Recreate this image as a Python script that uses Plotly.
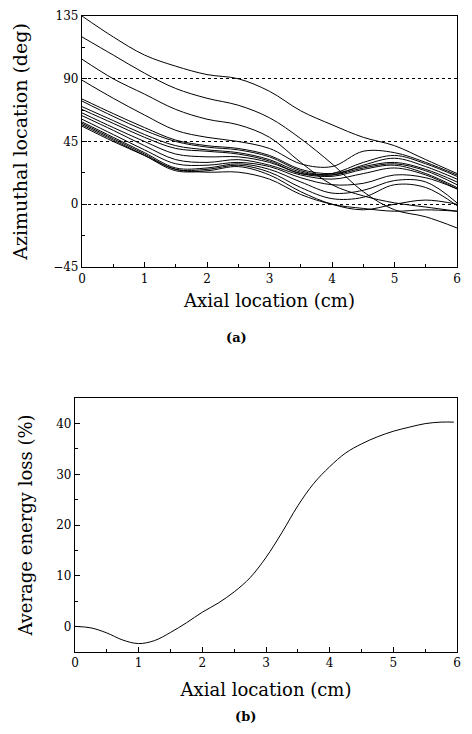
import plotly.graph_objects as go

# ---------------- data: panel (a) ----------------
axial_a = [0, 0.5, 1, 1.5, 2, 2.5, 3, 3.5, 4, 4.5, 5, 5.5, 6]
curve_A = [135, 120, 107, 99, 93, 90, 81, 67, 57, 48, 42, 32, 22]
curve_B = [120, 107, 94, 83, 76, 71, 62, 47, 29, 9, -4, -9, -17]
curve_C = [104, 90, 79, 68, 61, 57, 48, 30, 14, 6, 1, -2, -5]
curve_D = [89, 76, 64, 53, 48, 45, 40, 29, 27, 38, 37, 30, 21]
curve_E1 = [75.5, 65, 55, 46, 42, 40, 35, 25, 22, 27, 30, 25, 16]
curve_E2 = [74, 63, 53, 45, 41, 39, 34, 24, 21, 26, 29, 24, 14]
curve_E3 = [70, 60, 50, 42, 39, 37, 32, 23, 21, 28, 33, 27, 18]
curve_E4 = [68, 58, 48, 40, 38, 36, 31, 22, 22, 30, 35, 29, 20]
curve_F1 = [65.5, 55, 45, 36, 34, 34, 30, 22, 20, 25, 28, 22, 12]
curve_F2 = [63.5, 53, 42, 32, 30, 32, 28, 21, 18, 22, 26, 21, 11]
curve_F3 = [61, 50, 39, 29, 28, 30, 27, 19, 14, 15, 21, 19, 11]
curve_F4 = [59, 48, 37, 26, 26, 29, 25, 16, 8, 10, 17, 16, 1]
curve_F5 = [58, 47, 36, 25, 25, 28, 23, 12, 4, 5, 14, 12, -1]
curve_F6 = [57, 46, 35, 24, 24, 27, 21, 9, 0, -4, 0, 3, 0]
curve_G = [56, 45, 35, 25, 23, 23, 18, 7, 0, -3, -5, -4, -5]
curves_a = [curve_A, curve_B, curve_C, curve_D, curve_E1, curve_E2, curve_E3,
            curve_E4, curve_F1, curve_F2, curve_F3, curve_F4, curve_F5,
            curve_F6, curve_G]

# ---------------- data: panel (b) ----------------
axial_b = [0, 0.25, 0.5, 0.75, 1.0, 1.25, 1.5, 1.75, 2.0, 2.25, 2.5, 2.75,
           3.0, 3.25, 3.5, 3.75, 4.0, 4.25, 4.5, 4.75, 5.0, 5.25, 5.5, 5.75, 5.95]
energy_loss = [0, -0.3, -1.3, -2.7, -3.4, -2.8, -1.2, 0.7, 2.8, 4.6, 6.8, 9.6,
               13.6, 18.5, 23.8, 28.2, 31.5, 34.2, 36.0, 37.4, 38.5, 39.3, 40.0,
               40.3, 40.3]

x_ticks = [0, 1, 2, 3, 4, 5, 6]
y_ticks_a = [-45, 0, 45, 90, 135]
y_ticks_b = [0, 10, 20, 30, 40]

fig = go.Figure()
for c in curves_a:
    fig.add_trace(go.Scatter(x=axial_a, y=c, mode="lines",
                             line=dict(color="black", width=1, shape="spline"),
                             xaxis="x", yaxis="y", showlegend=False))
fig.add_trace(go.Scatter(x=axial_b, y=energy_loss, mode="lines",
                         line=dict(color="black", width=1, shape="spline"),
                         xaxis="x2", yaxis="y2", showlegend=False))

# page body adds an 8 px offset on every side; keep the figure inside the window
OFF = 8
W, H = 472 - 2 * OFF, 734 - 2 * OFF


def px(sx):
    return min((sx - OFF) / W, 1.0)


def py(sy):
    return 1 - (sy - OFF) / H


tick_font = dict(family="DejaVu Serif", size=12, color="black")
title_font = dict(family="DejaVu Serif", size=18, color="black")

common = dict(showline=True, linecolor="black", linewidth=1.2, mirror=True,
              ticks="inside", ticklen=5, tickcolor="black", zeroline=False,
              tickfont=tick_font, automargin=False, ticklabeloverflow="allow")

RIGHT = 457

fig.update_layout(
    width=W, height=H, margin=dict(l=0, r=0, t=0, b=0),
    paper_bgcolor="white", plot_bgcolor="white",
    xaxis=dict(domain=[px(82), px(RIGHT)], range=[0, 6], tickvals=x_ticks,
               showgrid=False, anchor="y",
               minor=dict(ticks="inside", ticklen=3, dtick=0.5, tickcolor="black"),
               title=dict(text="Axial location (cm)", font=title_font, standoff=9),
               **common),
    yaxis=dict(domain=[py(267), py(16)], range=[-45, 135], tickvals=y_ticks_a,
               showgrid=True, gridcolor="black", griddash="dot", gridwidth=0.8,
               anchor="x",
               minor=dict(ticks="inside", ticklen=3, dtick=22.5, tickcolor="black",
                          showgrid=False),
               title=dict(text="Azimuthal location (deg)",
                          font=dict(family="DejaVu Serif", size=19, color="black"),
                          standoff=20),
               **common),
    xaxis2=dict(domain=[px(75), px(RIGHT)], range=[0, 6], tickvals=x_ticks,
                showgrid=False, anchor="y2",
                minor=dict(ticks="inside", ticklen=3, dtick=0.5, tickcolor="black"),
                title=dict(text="Axial location (cm)", font=title_font, standoff=14),
                **common),
    yaxis2=dict(domain=[py(651.7), py(398.3)], range=[-5, 45],
                tickvals=y_ticks_b, showgrid=False, anchor="x2",
                minor=dict(ticks="inside", ticklen=3, dtick=5, tickcolor="black"),
                title=dict(text="Average energy loss (%)", font=title_font, standoff=18),
                **common),
    annotations=[
        dict(text="<b>(a)</b>", x=px(236), y=py(337), xref="paper", yref="paper",
             xanchor="center", yanchor="middle", showarrow=False,
             font=dict(family="DejaVu Serif", size=13, color="black")),
        dict(text="<b>(b)</b>", x=px(245), y=0, xref="paper", yref="paper",
             xanchor="center", yanchor="bottom", showarrow=False,
             font=dict(family="DejaVu Serif", size=13, color="black")),
    ],
)

fig.write_html("out.html")
